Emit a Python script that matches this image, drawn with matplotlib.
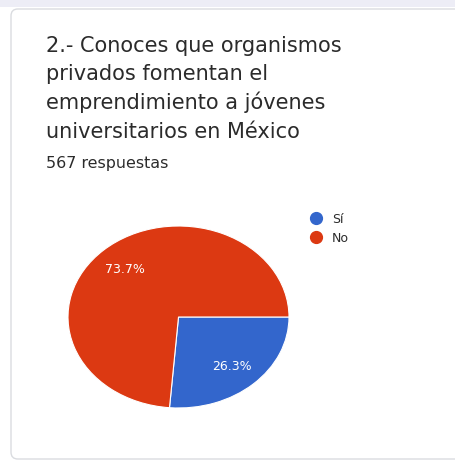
import matplotlib.pyplot as plt
from matplotlib.lines import Line2D
from matplotlib.patches import FancyBboxPatch, Rectangle

# datos de la encuesta
labels = ['Sí', 'No']
values = [26.3, 73.7]
colors = ['#3366cc', '#dc3912']

title_lines = ['2.- Conoces que organismos',
               'privados fomentan el',
               'emprendimiento a jóvenes',
               'universitarios en México']
subtitle = '567 respuestas'

W, H = 456, 464
plt.rcParams['font.family'] = ['DejaVu Sans']

fig = plt.figure(figsize=(W / 100, H / 100), dpi=100)
fig.patch.set_facecolor('white')

# banda superior y tarjeta
fig.patches.append(Rectangle((0, 1 - 8 / H), 1, 8 / H, transform=fig.transFigure,
                             facecolor='#ededf6', edgecolor='none', zorder=0))
fig.patches.append(FancyBboxPatch((11 / W, 1 - 460 / H), 470 / W, 450 / H,
                                  boxstyle='round,pad=0,rounding_size=0.015',
                                  transform=fig.transFigure, facecolor='white',
                                  edgecolor='#dadce0', linewidth=1.0, zorder=1))

baselines = [52, 80, 109, 138]
for line, b in zip(title_lines, baselines):
    fig.text(46 / W, 1 - b / H, line, fontsize=15.0, color='#2b2b2b',
             va='baseline', ha='left', zorder=3)
fig.text(46 / W, 1 - 168 / H, subtitle, fontsize=11.4, color='#2b2b2b',
         va='baseline', ha='left', zorder=3)

# pastel (elíptico como en la captura)
left, right, top, bottom = 68, 289, 227, 409
ax = fig.add_axes([left / W, 1 - bottom / H, (right - left) / W, (bottom - top) / H])
ax.set_zorder(4)
wedges, texts, autotexts = ax.pie(values, colors=colors, startangle=0, counterclock=False,
                                  autopct='%1.1f%%', pctdistance=0.72, radius=1,
                                  wedgeprops=dict(edgecolor='white', linewidth=0.8),
                                  textprops=dict(color='white', fontsize=9.0))
ax.set_aspect('auto')
ax.set_xlim(-1, 1)
ax.set_ylim(-1, 1)
ax.axis('off')

handles = [Line2D([], [], marker='o', linestyle='none', markersize=8.5,
                  markerfacecolor=c, markeredgecolor=c) for c in colors]
leg = fig.legend(handles, labels, loc='upper left', bbox_to_anchor=(310 / W, 1 - 213 / H),
                 frameon=False, fontsize=9.0, handletextpad=0.75, labelspacing=0.5,
                 handlelength=1.0, borderaxespad=0, borderpad=0)
for t in leg.get_texts():
    t.set_color('#2b2b2b')

fig.savefig('out.png', dpi=100)
